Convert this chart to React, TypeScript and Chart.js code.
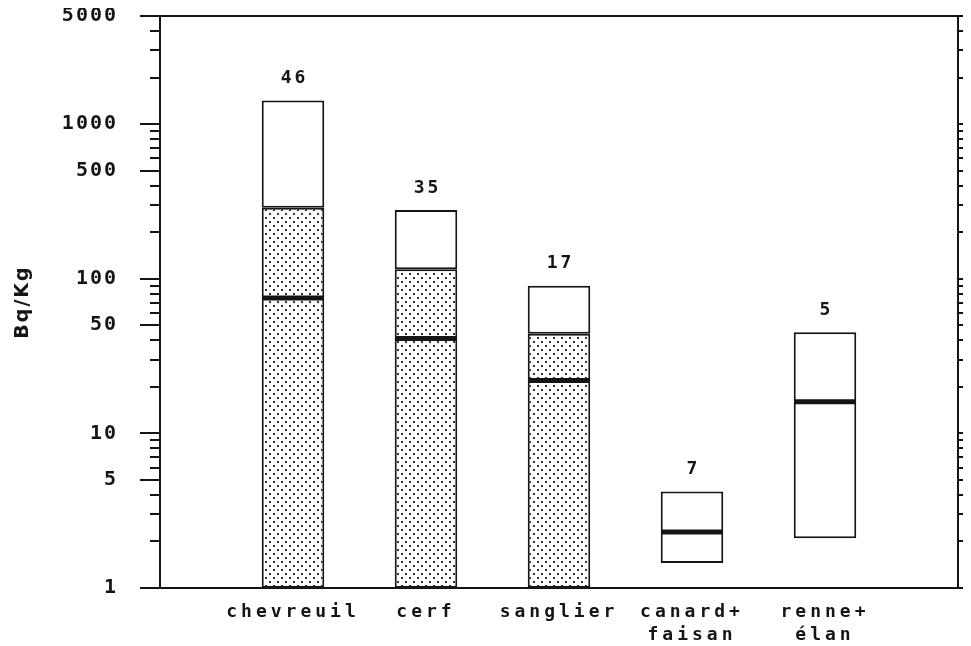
import React, { useEffect, useRef } from 'react';
import { Chart, registerables } from 'chart.js';

Chart.register(...registerables);

// ---- data ----
const categories: (string | string[])[] = ['chevreuil', 'cerf', 'sanglier', ['canard+', 'faisan'], ['renne+', 'élan']];
const sampleCounts = [46, 35, 17, 7, 5];
const minValues = [1, 1, 1, 1.45, 2.1];
const shadedTops: (number | null)[] = [288, 115, 44, null, null];
const maxValues = [1420, 278, 90, 4.2, 45];
const medians = [75, 41, 22, 2.3, 16];
const yTickLabels = [1, 5, 10, 50, 100, 500, 1000, 5000];
const yMinorTicks = [2, 3, 4, 6, 7, 8, 9, 20, 30, 40, 60, 70, 80, 90, 200, 300, 400, 600, 700, 800, 900, 2000, 3000, 4000];
const yMin = 1;
const yMax = 5000;
const yTitle = 'Bq/Kg';

const INK = '#151515';
const MONO = '"DejaVu Sans Mono", monospace';

const pad = <T,>(arr: T[]): (T | null)[] => [null, ...arr, null];

function makeDotPattern(): CanvasPattern | string {
  const c = document.createElement('canvas');
  c.width = 8;
  c.height = 8;
  const g = c.getContext('2d');
  if (!g) return '#ccc';
  g.fillStyle = '#ffffff';
  g.fillRect(0, 0, 8, 8);
  g.fillStyle = '#333333';
  g.fillRect(1, 1, 2, 2);
  g.fillRect(5, 5, 2, 2);
  const p = g.createPattern(c, 'repeat');
  return p || '#ccc';
}

export default function App() {
  const ref = useRef<HTMLCanvasElement | null>(null);

  useEffect(() => {
    if (!ref.current) return;
    const dots = makeDotPattern();

    const textPlugin = {
      id: 'textAndFrame',
      beforeUpdate(chart: any) {
        chart.ctx.letterSpacing = '4px';
      },
      beforeDraw(chart: any) {
        const { ctx, width, height } = chart;
        ctx.save();
        ctx.fillStyle = '#ffffff';
        ctx.fillRect(0, 0, width, height);
        ctx.restore();
        // x-axis labels are drawn before the datasets
        ctx.letterSpacing = '4px';
      },
      afterDatasetsDraw(chart: any) {
        const { ctx } = chart;
        // sample counts above each bar
        const meta = chart.getDatasetMeta(2);
        ctx.save();
        ctx.letterSpacing = '3px';
        ctx.font = `bold 18px ${MONO}`;
        ctx.fillStyle = INK;
        ctx.textAlign = 'center';
        ctx.textBaseline = 'middle';
        meta.data.forEach((el: any, i: number) => {
          const n = sampleCounts[i - 1];
          if (n === undefined || el == null || el.y == null || isNaN(el.y)) return;
          ctx.fillText(String(n), el.x + 1.5, el.y - 22);
        });
        ctx.restore();
        // y-axis labels and title (z = 1) are drawn after the datasets
        ctx.letterSpacing = '2px';
      },
      afterDraw(chart: any) {
        const { ctx, chartArea, scales } = chart;
        const { left, right, top, bottom } = chartArea;
        const y = scales.y;
        ctx.save();
        ctx.strokeStyle = INK;
        ctx.lineWidth = 2;
        ctx.strokeRect(left, top, right - left, bottom - top);
        ctx.beginPath();
        for (const v of yTickLabels) {
          const py = Math.round(y.getPixelForValue(v));
          ctx.moveTo(left - 20, py);
          ctx.lineTo(left, py);
          ctx.moveTo(right, py);
          ctx.lineTo(right + 10, py);
        }
        for (const v of yMinorTicks) {
          const py = Math.round(y.getPixelForValue(v));
          ctx.moveTo(left - 10, py);
          ctx.lineTo(left, py);
          ctx.moveTo(right, py);
          ctx.lineTo(right + 10, py);
        }
        ctx.stroke();
        ctx.restore();
      },
    };

    const chart = new Chart(ref.current, {
      type: 'bar',
      data: {
        labels: ['', ...categories, ''] as any,
        datasets: [
          {
            type: 'line',
            label: 'médiane',
            data: pad(medians),
            showLine: false,
            pointStyle: 'line',
            pointRadius: 31,
            pointHoverRadius: 31,
            pointBorderWidth: 5,
            pointBorderColor: INK,
            pointBackgroundColor: INK,
            borderColor: INK,
          } as any,
          {
            label: 'inférieur',
            data: pad(minValues.map((m, i) => (shadedTops[i] == null ? null : [m, shadedTops[i] as number]))) as any,
            backgroundColor: dots as any,
            borderColor: INK,
            borderWidth: 2,
            borderSkipped: false,
            grouped: false,
            categoryPercentage: 1,
            barPercentage: 0.47,
          },
          {
            label: 'supérieur',
            data: pad(maxValues.map((mx, i) => [shadedTops[i] ?? minValues[i], mx])) as any,
            backgroundColor: '#ffffff',
            borderColor: INK,
            borderWidth: 2,
            borderSkipped: false,
            grouped: false,
            categoryPercentage: 1,
            barPercentage: 0.47,
          },
        ],
      },
      options: {
        animation: false,
        responsive: true,
        maintainAspectRatio: false,
        layout: { autoPadding: false, padding: { top: 8, right: 13, bottom: 0, left: 0 } },
        plugins: {
          legend: { display: false },
          tooltip: { enabled: false },
        },
        scales: {
          x: {
            type: 'category',
            offset: false,
            grid: { display: false },
            border: { display: false },
            ticks: {
              autoSkip: false,
              maxRotation: 0,
              minRotation: 0,
              padding: 5,
              color: INK,
              font: { family: MONO, size: 18, weight: 'bold', lineHeight: 1.28 },
            },
            afterFit: (s: any) => {
              s.height = 58;
              s.paddingLeft = 0;
              s.paddingRight = 0;
            },
          },
          y: {
            type: 'logarithmic',
            min: yMin,
            max: yMax,
            grid: { display: false, drawTicks: false, z: 1 },
            border: { display: false },
            afterBuildTicks: (s: any) => {
              s.ticks = yTickLabels.map((v) => ({ value: v }));
            },
            ticks: {
              padding: 42,
              z: 1,
              color: INK,
              font: { family: MONO, size: 20, weight: 'bold' },
              callback: (v: any) => String(v),
            },
            title: {
              display: true,
              text: yTitle,
              color: INK,
              padding: { top: 4, bottom: 0 },
              font: { family: '"DejaVu Sans", sans-serif', size: 19, weight: 'bold' },
            },
            afterFit: (s: any) => {
              s.width = 152;
              s.paddingTop = 0;
              s.paddingBottom = 0;
            },
          },
        },
      },
      plugins: [textPlugin],
    } as any);

    return () => chart.destroy();
  }, []);

  return (
    <div style={{ width: 963, height: 638, position: 'relative' }}>
      <canvas ref={ref} />
    </div>
  );
}
